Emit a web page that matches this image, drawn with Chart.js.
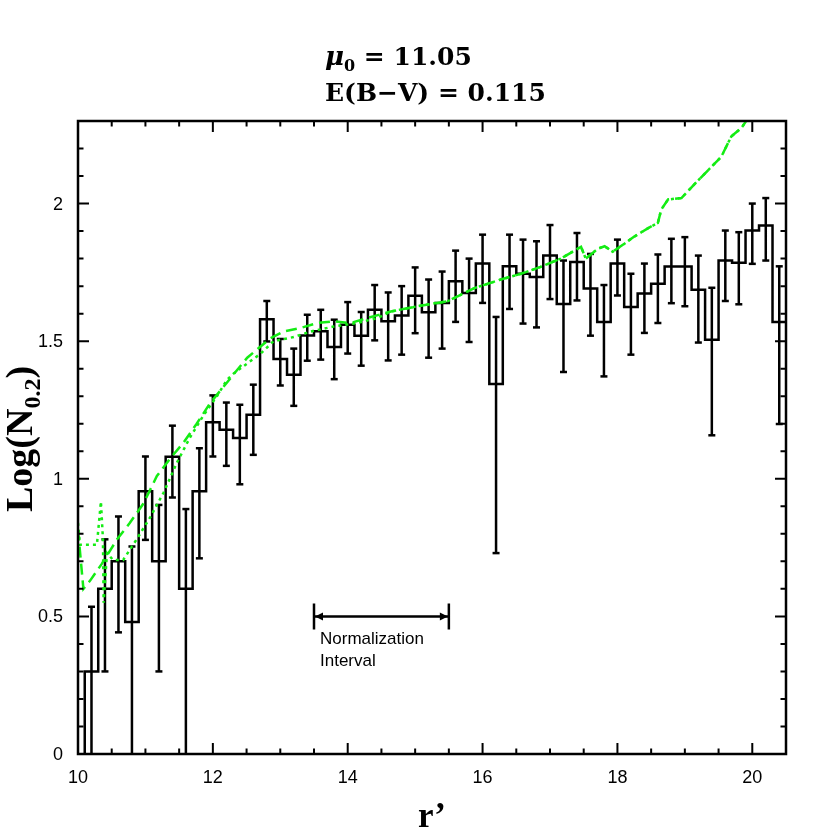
<!DOCTYPE html>
<html>
<head>
<meta charset="utf-8">
<script src="https://cdn.jsdelivr.net/npm/chart.js@4.4.1/dist/chart.umd.min.js"></script>
<style>
  html, body { margin: 0; padding: 0; background: #fff; }
  #wrap { width: 830px; height: 830px; }
</style>
</head>
<body>
<div id="wrap"><canvas id="lf"></canvas></div>
<script>
// histogram bin centres (r', 0.2 mag bins)
var binCenters = [10.0, 10.2, 10.4, 10.6, 10.8, 11.0, 11.2, 11.4, 11.6, 11.8,
  12.0, 12.2, 12.4, 12.6, 12.8, 13.0, 13.2, 13.4, 13.6, 13.8,
  14.0, 14.2, 14.4, 14.6, 14.8, 15.0, 15.2, 15.4, 15.6, 15.8,
  16.0, 16.2, 16.4, 16.6, 16.8, 17.0, 17.2, 17.4, 17.6, 17.8,
  18.0, 18.2, 18.4, 18.6, 18.8, 19.0, 19.2, 19.4, 19.6, 19.8,
  20.0, 20.2, 20.4];

// log N per bin (first bin falls below the plot)
var logN = [-1, 0.30, 0.60, 0.70, 0.48, 0.955, 0.70, 1.08, 0.60, 0.955,
  1.205, 1.178, 1.148, 1.233, 1.58, 1.435, 1.378, 1.521, 1.536, 1.479,
  1.56, 1.52, 1.614, 1.572, 1.593, 1.665, 1.605, 1.639, 1.718, 1.675,
  1.782, 1.344, 1.772, 1.745, 1.733, 1.811, 1.635, 1.788, 1.691, 1.57,
  1.782, 1.624, 1.673, 1.709, 1.771, 1.771, 1.687, 1.505, 1.793, 1.785,
  1.902, 1.92, 1.57];

var errHigh = [null, 0.535, 0.78, 0.863, 0.754, 1.081, 0.905, 1.193, 0.89, 1.111,
  1.303, 1.277, 1.269, 1.342, 1.646, 1.508, 1.473, 1.596, 1.614, 1.578,
  1.642, 1.606, 1.704, 1.677, 1.70, 1.768, 1.724, 1.753, 1.829, 1.80,
  1.887, 1.588, 1.887, 1.869, 1.863, 1.922, 1.793, 1.893, 1.817, 1.704,
  1.869, 1.745, 1.782, 1.815, 1.872, 1.878, 1.811, 1.694, 1.902, 1.896,
  2.00, 2.02, 1.772];

var errLow = [null, -0.5, 0.30, 0.442, -0.5, 0.778, 0.30, 0.932, -0.5, 0.711,
  1.081, 1.047, 0.98, 1.087, 1.499, 1.339, 1.265, 1.429, 1.433, 1.362,
  1.455, 1.411, 1.503, 1.430, 1.451, 1.529, 1.44, 1.473, 1.57, 1.497,
  1.639, 0.73, 1.617, 1.564, 1.55, 1.653, 1.388, 1.648, 1.52, 1.372,
  1.666, 1.451, 1.53, 1.566, 1.638, 1.627, 1.495, 1.158, 1.646, 1.634,
  1.781, 1.793, 1.199];

// model curves (green), bright end differs, faint end shared
var dashedR = [10.0, 10.08, 10.18, 10.35, 10.58, 10.77, 10.97, 11.17, 11.37, 11.56,
  11.76, 11.96, 12.11, 12.51, 12.85, 13.05, 13.30, 13.55, 13.79, 14.04, 14.29];
var dashedLog = [0.815, 0.60, 0.63, 0.69, 0.78, 0.84, 0.91, 1.01, 1.075, 1.13,
  1.20, 1.275, 1.32, 1.44, 1.51, 1.535, 1.548, 1.566, 1.572, 1.566, 1.584];

var dottedR = [10.0, 10.03, 10.28, 10.34, 10.37, 10.38, 10.43, 10.52, 10.67, 10.87,
  11.07, 11.27, 11.47, 11.66, 11.86, 12.06, 12.21, 12.31, 12.71, 12.90,
  13.20, 13.45, 13.79, 14.14, 14.44];
var dottedLog = [0.84, 0.76, 0.76, 0.917, 0.78, 0.55, 0.73, 0.705, 0.705, 0.78,
  0.86, 0.95, 1.06, 1.15, 1.23, 1.30, 1.36, 1.383, 1.455, 1.50,
  1.515, 1.535, 1.553, 1.566, 1.584];

var tailR = [14.64, 15.08, 15.48, 15.88, 16.27, 16.57, 16.86, 17.16, 17.46, 17.53,
  17.71, 17.81, 17.93, 18.08, 18.25, 18.45, 18.60, 18.65, 18.75, 18.95,
  19.14, 19.34, 19.54, 19.64, 19.69, 19.84, 19.91, 20.1];
var tailLog = [1.608, 1.629, 1.645, 1.693, 1.724, 1.745, 1.77, 1.80, 1.843, 1.80,
  1.836, 1.845, 1.825, 1.85, 1.88, 1.91, 1.93, 1.978, 2.015, 2.02,
  2.07, 2.12, 2.17, 2.22, 2.244, 2.275, 2.30, 2.40];

var xTicks = [10, 12, 14, 16, 18, 20];
var xTickLabels = ["10", "12", "14", "16", "18", "20"];
var yTicks = [0, 0.5, 1, 1.5, 2];
var yTickLabels = ["0", "0.5", "1", "1.5", "2"];

var normRange = [13.5, 15.5];
var normLevel = 0.5;

var green = "#14ec14";

function toPoints(xs, ys) {
  return xs.map(function (x, i) { return { x: x, y: ys[i] }; });
}

var histData = toPoints(binCenters, logN);
// close the last bin at its right edge
histData.push({ x: binCenters[binCenters.length - 1] + 0.2, y: logN[logN.length - 1] });

var errData = [];
binCenters.forEach(function (x, i) {
  if (errLow[i] === null) return;
  errData.push({ x: x, y: errLow[i] }, { x: x, y: errHigh[i] }, { x: x, y: null });
});

var dashedData = toPoints(dashedR.concat(tailR), dashedLog.concat(tailLog));
var dottedData = toPoints(dottedR.concat(tailR), dottedLog.concat(tailLog));

// frame, inward ticks, labels, title, normalization marker
var framePlugin = {
  id: "frame",
  afterDraw: function (chart) {
    var c = chart.ctx, a = chart.chartArea;
    var xs = chart.scales.x, ys = chart.scales.y;
    c.save();
    c.strokeStyle = "#000";
    c.fillStyle = "#000";
    c.lineWidth = 2.5;
    c.strokeRect(a.left, a.top, a.right - a.left, a.bottom - a.top);

    c.lineWidth = 2;
    c.beginPath();
    var k, v, p, len;
    for (k = 0; k <= 21; k++) {
      v = 10 + k * 0.5;
      p = xs.getPixelForValue(v);
      len = (k % 4 === 0) ? 11 : 5.5;
      c.moveTo(p, a.bottom); c.lineTo(p, a.bottom - len);
      c.moveTo(p, a.top); c.lineTo(p, a.top + len);
    }
    for (k = 0; k <= 23; k++) {
      v = k * 0.1;
      p = ys.getPixelForValue(v);
      len = (k % 5 === 0) ? 11 : 5.5;
      c.moveTo(a.left, p); c.lineTo(a.left + len, p);
      c.moveTo(a.right, p); c.lineTo(a.right - len, p);
    }
    c.stroke();

    // tick labels
    c.font = "18px 'Liberation Sans', Arial, sans-serif";
    c.textAlign = "center";
    c.textBaseline = "alphabetic";
    xTicks.forEach(function (t, i) {
      c.fillText(xTickLabels[i], xs.getPixelForValue(t), a.bottom + 29);
    });
    c.textAlign = "right";
    c.textBaseline = "middle";
    yTicks.forEach(function (t, i) {
      c.fillText(yTickLabels[i], a.left - 15, ys.getPixelForValue(t) + 1);
    });

    // normalization interval
    var x1 = xs.getPixelForValue(normRange[0]);
    var x2 = xs.getPixelForValue(normRange[1]);
    var yy = ys.getPixelForValue(normLevel);
    c.lineWidth = 2.5;
    c.beginPath();
    c.moveTo(x1, yy); c.lineTo(x2, yy);
    c.moveTo(x1, yy - 13); c.lineTo(x1, yy + 13);
    c.moveTo(x2, yy - 13); c.lineTo(x2, yy + 13);
    c.stroke();
    c.beginPath();
    c.moveTo(x1 + 1, yy); c.lineTo(x1 + 9, yy - 4); c.lineTo(x1 + 9, yy + 4); c.closePath();
    c.moveTo(x2 - 1, yy); c.lineTo(x2 - 9, yy - 4); c.lineTo(x2 - 9, yy + 4); c.closePath();
    c.fill();
    c.font = "17px 'Liberation Sans', Arial, sans-serif";
    c.textAlign = "left";
    c.textBaseline = "alphabetic";
    c.fillText("Normalization", x1 + 6, yy + 28);
    c.fillText("Interval", x1 + 6, yy + 50);

    // title
    var tx = 325;
    c.font = "italic bold 26px 'DejaVu Serif', serif";
    c.fillText("\u03bc", tx, 65);
    var w = c.measureText("\u03bc").width;
    c.font = "bold 16px 'DejaVu Serif', serif";
    c.fillText("0", tx + w, 71);
    w += c.measureText("0").width;
    c.font = "bold 25px 'DejaVu Serif', serif";
    c.fillText(" = 11.05", tx + w, 65);
    c.fillText("E(B\u2212V) = 0.115", tx, 101);

    // x axis title
    c.font = "bold 35px 'Liberation Serif', 'Times New Roman', serif";
    c.textAlign = "center";
    c.fillText("r\u2019", 432, 827);

    // y axis title, rotated
    c.translate(32, 439);
    c.rotate(-Math.PI / 2);
    var big = "bold 38px 'Liberation Serif', 'Times New Roman', serif";
    var sub = "bold 24px 'Liberation Serif', 'Times New Roman', serif";
    c.font = big;
    var w1 = c.measureText("Log(N").width;
    var w3 = c.measureText(")").width;
    c.font = sub;
    var w2 = c.measureText("0.2").width;
    var x0 = -(w1 + w2 + w3) / 2;
    c.textAlign = "left";
    c.font = big;
    c.fillText("Log(N", x0, 0);
    c.font = sub;
    c.fillText("0.2", x0 + w1, 8);
    c.font = big;
    c.fillText(")", x0 + w1 + w2, 0);
    c.restore();
  }
};

var ctx = document.getElementById("lf").getContext("2d");
var chart = new Chart(ctx, {
  type: "line",
  data: {
    datasets: [
      {
        label: "model (dotted)",
        data: dottedData,
        borderColor: green,
        borderWidth: 2.5,
        borderDash: [3, 4],
        pointRadius: 0,
        tension: 0,
      },
      {
        label: "model (dashed)",
        data: dashedData,
        borderColor: green,
        borderWidth: 2.5,
        borderDash: [11, 6],
        pointRadius: 0,
        tension: 0,
      },
      {
        label: "counts",
        data: histData,
        stepped: "middle",
        borderColor: "#000",
        borderWidth: 2.5,
        pointRadius: 0,
      },
      {
        label: "errors",
        data: errData,
        spanGaps: false,
        borderColor: "#000",
        borderWidth: 2.5,
        pointStyle: "line",
        pointRadius: 3.5,
        pointBorderWidth: 2.5,
        pointBorderColor: "#000",
      },
    ],
  },
  options: {
    responsive: true,
    maintainAspectRatio: false,
    animation: false,
    events: [],
    layout: { padding: { left: 78, right: 44, top: 121, bottom: 76 } },
    scales: {
      x: { type: "linear", min: 10, max: 20.5, display: false },
      y: { type: "linear", min: 0, max: 2.3, display: false },
    },
    plugins: { legend: { display: false }, tooltip: { enabled: false } },
  },
  plugins: [framePlugin],
});
</script>
</body>
</html>
